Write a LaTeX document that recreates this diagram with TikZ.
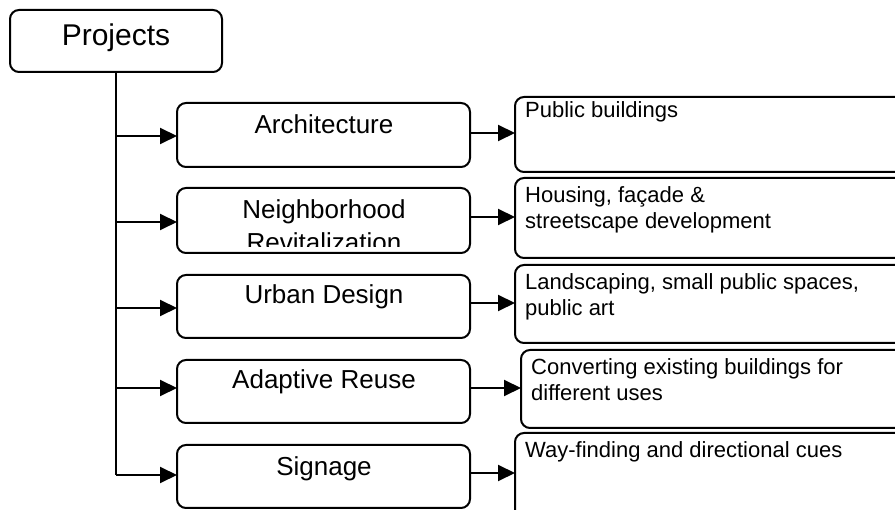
\documentclass[tikz,border=0pt]{standalone}
\usepackage{fontspec}
\setmainfont{Liberation Sans}
\usetikzlibrary{arrows.meta}
\begin{document}
\begin{tikzpicture}[x=1pt,y=-1pt,
  box/.style={draw, line width=2pt, rounded corners=9pt, inner sep=0pt, outer sep=0pt, fill=white},
  conn/.style={line width=2pt},
  arr/.style={line width=2pt, -{Triangle[length=17pt,width=16pt]}},
  midtxt/.style={font=\fontsize{26}{33}\selectfont, anchor=base, inner sep=0pt},
  rtxt/.style={font=\fontsize{22}{26}\selectfont, anchor=base west, inner sep=0pt, align=left},
]
\useasboundingbox (0,0) rectangle (895,510);
\clip (0,0) rectangle (895,510);
% top box
\node[box, minimum width=212pt, minimum height=62pt] (P) at (116,41) {};
\node[font=\fontsize{30}{36}\selectfont, anchor=base, inner sep=0pt] (Pt) at (116,46) {Projects};
% middle boxes
\node[box, minimum width=293pt, minimum height=64pt] (A) at (323.5,135) {};
\node[box, minimum width=293pt, minimum height=65pt] (N) at (323.5,220.5) {};
\node[box, minimum width=293pt, minimum height=63pt] (U) at (323.5,306.5) {};
\node[box, minimum width=293pt, minimum height=63pt] (AR) at (323.5,391.5) {};
\node[box, minimum width=293pt, minimum height=63pt] (S) at (323.5,476.5) {};
\node[midtxt] (At) at (324,134) {Architecture};
\node[midtxt] (Nt1) at (324,219) {Neighborhood};
\begin{scope}
\clip (177,225) rectangle (470,247);
\node[midtxt] (Nt2) at (324,252) {Revitalization};
\end{scope}
\node[midtxt] (Ut) at (324,304) {Urban Design};
\node[midtxt] (ARt) at (324,389) {Adaptive Reuse};
\node[midtxt] (St) at (324,476) {Signage};
% right boxes
\node[box, minimum width=390pt, minimum height=75pt] (R1) at (710,134.5) {};
\node[box, minimum width=390pt, minimum height=80pt] (R2) at (710,218) {};
\node[box, minimum width=390pt, minimum height=78pt] (R3) at (710,304) {};
\node[box, minimum width=384pt, minimum height=78pt] (R4) at (713,389) {};
\node[box, minimum width=390pt, minimum height=97pt] (R5) at (710,481.5) {};
\node[rtxt] (R1t) at (525,118) {Public buildings};
\node[rtxt] (R2t) at (525,229) {Housing, façade \&\\streetscape development};
\node[rtxt] (R3t) at (525,316) {Landscaping, small public spaces,\\public art};
\node[rtxt] (R4t) at (531,401) {Converting existing buildings for\\different uses};
\node[rtxt] (R5t) at (525,458) {Way-finding and directional cues};
% trunk
\draw[conn] (P.south) -- (P.south |- {0,475});
\draw[arr] (P.south |- {0,136}) -- (A.west |- {0,136});
\draw[arr] (P.south |- {0,222}) -- (N.west |- {0,222});
\draw[arr] (P.south |- {0,308}) -- (U.west |- {0,308});
\draw[arr] (P.south |- {0,388}) -- (AR.west |- {0,388});
\draw[arr] (P.south |- {0,475}) -- (S.west |- {0,475});
% right arrows
\draw[arr] (A.east |- {0,133}) -- (R1.west |- {0,133});
\draw[arr] (N.east |- {0,217}) -- (R2.west |- {0,217});
\draw[arr] (U.east |- {0,303}) -- (R3.west |- {0,303});
\draw[arr] (AR.east |- {0,388}) -- (R4.west |- {0,388});
\draw[arr] (S.east |- {0,473}) -- (R5.west |- {0,473});
\end{tikzpicture}
\end{document}
